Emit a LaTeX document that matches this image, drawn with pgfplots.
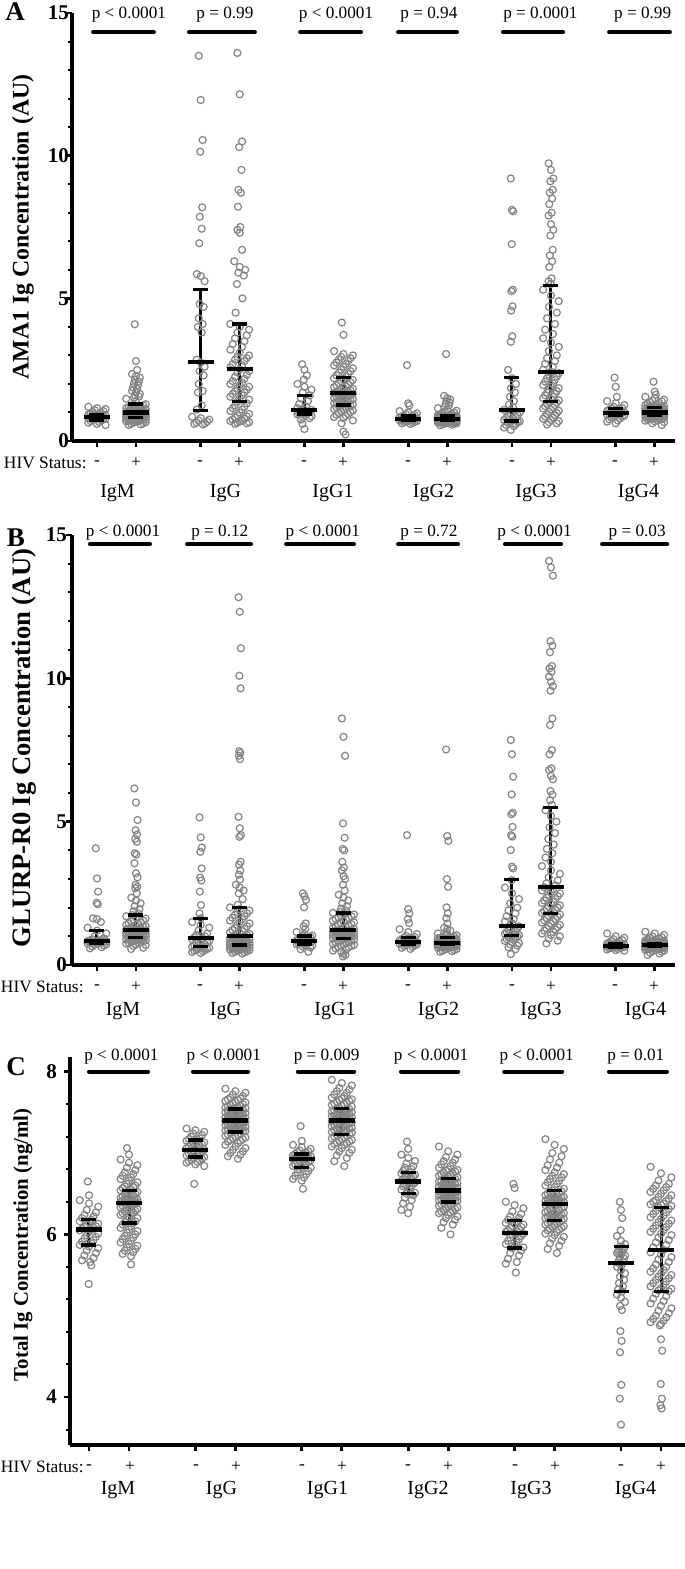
\documentclass[border=0pt]{standalone}
\usepackage{pgfplots}
\pgfplotsset{compat=1.18}
\usepackage{fontspec}
\setmainfont{Liberation Serif}
\definecolor{ptgray}{RGB}{132,132,132}
\pgfplotsset{
 pts/.style={only marks, mark=o, mark size=1.75pt, mark options={draw=ptgray, line width=0.6pt}, forget plot},
 panel/.style={scale only axis, clip=false, axis x line=bottom, axis y line=left,
   axis line style={line width=1.8pt,-}, tick align=outside, major tick length=3pt, minor tick length=2pt,
   tick style={black, line width=1.4pt}, minor tick style={line width=1pt},
   xticklabels={,,,,,,,,,,,}, yticklabel style={font=\fontsize{10.5}{12}\selectfont\bfseries}},
}
\newcommand{\sw}[3]{\addplot[pts] table[header=false,row sep=\\,y index=0,x expr={#1+#2*(mod(4*\coordindex,9)-4)/4}]{#3};}
\newcommand{\iq}[4]{\addplot[black, line width=1.5pt, mark=-, mark size=3.75pt, mark options={line width=1.7pt, solid}, forget plot] coordinates {(#1,#2)(#1,#3)};
\addplot[only marks, mark=-, mark size=6.5pt, mark options={black, line width=2.1pt}, forget plot] coordinates {(#1,#4)};}
\newcommand{\pb}[6]{\draw[line width=2pt, line cap=round] (axis cs:#1,#3) -- (axis cs:#2,#3);
\node[font=\fontsize{8.6}{10}\selectfont, inner sep=0pt] at (axis cs:#4,#5) {#6};}
\begin{document}
\begin{tikzpicture}
\useasboundingbox (0,0) rectangle (342.5pt,-784.5pt);
% ---------------- Panel A ----------------
\begin{axis}[panel, at={(36pt,-6.5pt)}, anchor=north west, width=301.5pt, height=214pt,
 xmin=0.36, xmax=15.82, ymin=0, ymax=15, yticklabel style={xshift=5pt},
 xtick={1,2,3.66,4.66,6.32,7.32,8.98,9.98,11.64,12.64,14.3,15.3},
 ytick={0,5,10,15}, yticklabels={0,5,10,15}, minor ytick={1,2,3,4,6,7,8,9,11,12,13,14}]
\sw{1}{.22}{1.20\\1.15\\1.12\\1.08\\1.05\\1.02\\0.99\\0.97\\0.95\\0.93\\0.92\\0.90\\0.88\\0.87\\0.85\\0.84\\0.83\\0.82\\0.80\\0.79\\0.78\\0.76\\0.75\\0.74\\0.72\\0.70\\0.67\\0.64\\0.60\\0.56\\}
\sw{2}{.03}{4.09\\2.80\\2.49\\}
\sw{2}{.1}{2.35\\2.28\\2.22\\2.15\\2.08\\2.02\\1.95\\1.88\\1.82\\1.76\\1.70\\1.65\\1.60\\1.56\\1.52\\}
\sw{2}{.25}{1.48\\1.40\\1.29\\1.27\\1.25\\1.23\\1.21\\1.19\\1.17\\1.15\\1.14\\1.12\\1.10\\1.09\\1.08\\1.06\\1.05\\1.04\\1.03\\1.02\\1.01\\1.00\\0.99\\0.98\\0.97\\0.96\\0.95\\0.94\\0.93\\0.92\\0.91\\0.90\\0.89\\0.88\\0.87\\0.86\\0.85\\0.85\\0.84\\0.83\\0.83\\0.82\\0.81\\0.80\\0.79\\0.78\\0.77\\0.76\\0.75\\0.74\\0.73\\0.72\\0.71\\0.70\\0.69\\0.68\\0.66\\0.64\\0.62\\0.60\\0.58\\0.56\\}
\sw{3.66}{.05}{13.50\\11.95\\10.55\\10.14\\8.19\\7.86\\7.44\\6.93\\}
\sw{3.66}{.1}{5.85\\5.78\\5.60\\4.80\\4.70\\4.30\\4.10\\4.00\\3.80\\2.85\\2.75\\2.60\\2.45\\2.30\\2.00\\1.75\\1.70\\1.25\\1.10\\}
\sw{3.66}{.22}{0.85\\0.80\\0.75\\0.72\\0.68\\0.65\\0.62\\0.60\\0.58\\}
\sw{4.66}{.06}{13.60\\12.15\\10.50\\10.30\\9.50\\8.80\\8.70\\8.21\\7.50\\7.40\\7.30\\6.70\\}
\sw{4.66}{.14}{6.30\\6.10\\6.00\\5.90\\5.80\\5.50\\5.00\\4.50\\}
\sw{4.66}{.24}{4.10\\4.00\\3.90\\3.80\\3.70\\3.60\\3.50\\3.40\\3.30\\3.20\\3.10\\3.00\\2.95\\2.90\\2.85\\2.80\\2.70\\2.65\\2.58\\2.51\\2.45\\2.40\\2.32\\2.25\\2.18\\2.10\\2.05\\2.00\\1.95\\1.90\\1.85\\1.80\\1.75\\1.70\\1.65\\1.60\\1.55\\1.50\\1.45\\1.38\\1.32\\1.25\\1.20\\1.15\\1.10\\1.05\\1.00\\0.95\\0.90\\0.86\\0.82\\0.78\\0.75\\0.72\\0.70\\0.68\\0.66\\0.64\\0.62\\0.60\\}
\sw{6.32}{.06}{2.69\\2.50\\2.30\\2.15\\}
\sw{6.32}{.18}{2.00\\1.90\\1.80\\1.70\\1.60\\1.50\\1.40\\1.30\\1.20\\1.15\\1.10\\1.09\\1.05\\1.02\\1.00\\0.98\\0.96\\0.95\\0.93\\0.90\\0.87\\0.84\\0.80\\0.75\\}
\sw{6.32}{.05}{0.60\\0.42\\}
\sw{7.32}{.04}{4.15\\3.72\\}
\sw{7.32}{.24}{3.15\\3.05\\3.00\\2.95\\2.90\\2.85\\2.80\\2.75\\2.70\\2.65\\2.60\\2.55\\2.50\\2.45\\2.40\\2.35\\2.30\\2.25\\2.20\\2.17\\2.14\\2.10\\2.06\\2.02\\1.98\\1.95\\1.92\\1.89\\1.86\\1.83\\1.80\\1.78\\1.76\\1.74\\1.72\\1.70\\1.68\\1.67\\1.65\\1.63\\1.61\\1.59\\1.57\\1.55\\1.53\\1.51\\1.49\\1.47\\1.45\\1.43\\1.41\\1.39\\1.37\\1.35\\1.33\\1.31\\1.28\\1.26\\1.24\\1.22\\1.20\\1.18\\1.15\\1.12\\1.10\\1.07\\1.04\\1.01\\0.98\\0.95\\0.92\\0.88\\0.84\\0.80\\0.72\\}
\sw{7.32}{.05}{0.62\\0.33\\0.23\\}
\sw{8.98}{.03}{2.66\\1.32\\1.25\\}
\sw{8.98}{.22}{1.05\\1.00\\0.97\\0.94\\0.91\\0.89\\0.88\\0.86\\0.84\\0.82\\0.80\\0.79\\0.78\\0.77\\0.76\\0.75\\0.74\\0.73\\0.72\\0.71\\0.70\\0.69\\0.68\\0.66\\0.64\\0.62\\0.60\\}
\sw{9.98}{.03}{3.05\\}
\sw{9.98}{.08}{1.58\\1.50\\1.45\\1.40\\1.35\\1.30\\1.25\\1.20\\}
\sw{9.98}{.24}{1.15\\1.10\\1.06\\1.02\\1.00\\0.98\\0.96\\0.94\\0.92\\0.90\\0.89\\0.88\\0.88\\0.87\\0.87\\0.86\\0.86\\0.85\\0.85\\0.84\\0.84\\0.83\\0.83\\0.82\\0.82\\0.81\\0.80\\0.80\\0.79\\0.79\\0.78\\0.78\\0.77\\0.77\\0.76\\0.76\\0.75\\0.75\\0.75\\0.74\\0.74\\0.74\\0.73\\0.73\\0.73\\0.72\\0.72\\0.72\\0.71\\0.71\\0.71\\0.70\\0.70\\0.69\\0.69\\0.68\\0.68\\0.67\\0.67\\0.66\\0.66\\0.65\\0.65\\0.64\\0.63\\0.62\\0.61\\0.60\\0.59\\0.57\\0.55\\}
\sw{11.64}{.03}{9.20\\8.10\\8.05\\6.90\\5.30\\5.25\\4.72\\4.57\\3.67\\3.48\\}
\sw{11.64}{.1}{2.49\\2.20\\2.00\\1.85\\1.70\\1.55\\1.40\\1.28\\1.18\\}
\sw{11.64}{.2}{1.09\\1.05\\1.01\\0.96\\0.90\\0.87\\0.84\\0.81\\0.78\\0.74\\0.71\\0.69\\0.67\\0.66\\0.64\\0.60\\0.56\\0.52\\0.47\\}
\sw{11.64}{.03}{0.39\\}
\sw{12.64}{.06}{9.73\\9.50\\9.20\\9.10\\8.80\\8.70\\8.50\\8.30\\8.00\\7.90\\7.60\\7.40\\7.20\\6.70\\6.50\\6.30\\6.10\\5.70\\5.60\\5.50\\}
\sw{12.64}{.2}{5.30\\5.10\\4.90\\4.70\\4.50\\4.30\\4.10\\3.90\\3.75\\3.60\\3.45\\3.30\\3.15\\3.00\\2.90\\2.80\\2.70\\2.60\\2.50\\2.43\\2.38\\2.32\\2.26\\2.20\\2.14\\2.08\\2.02\\1.96\\1.90\\1.85\\1.80\\1.75\\1.70\\1.65\\1.60\\1.55\\1.50\\1.46\\1.42\\1.38\\1.34\\1.30\\1.26\\1.22\\1.18\\1.14\\1.10\\1.06\\1.02\\0.98\\0.94\\0.90\\0.86\\0.82\\0.78\\0.74\\0.70\\0.66\\0.62\\0.58\\}
\sw{14.3}{.03}{2.22\\1.90\\1.55\\}
\sw{14.3}{.22}{1.40\\1.32\\1.26\\1.20\\1.16\\1.14\\1.12\\1.10\\1.08\\1.06\\1.04\\1.02\\1.01\\1.00\\0.99\\0.98\\0.96\\0.94\\0.92\\0.90\\0.89\\0.87\\0.85\\0.82\\0.79\\0.76\\0.72\\0.68\\0.62\\}
\sw{15.3}{.03}{2.08\\1.73\\1.62\\}
\sw{15.3}{.24}{1.55\\1.50\\1.45\\1.42\\1.39\\1.36\\1.33\\1.30\\1.28\\1.26\\1.24\\1.22\\1.21\\1.20\\1.19\\1.18\\1.17\\1.16\\1.15\\1.14\\1.13\\1.12\\1.11\\1.10\\1.09\\1.08\\1.07\\1.06\\1.05\\1.05\\1.04\\1.03\\1.03\\1.02\\1.01\\1.01\\1.00\\0.99\\0.99\\0.98\\0.98\\0.97\\0.97\\0.96\\0.96\\0.95\\0.95\\0.94\\0.94\\0.93\\0.93\\0.92\\0.92\\0.91\\0.91\\0.90\\0.89\\0.88\\0.87\\0.86\\0.85\\0.84\\0.83\\0.82\\0.81\\0.80\\0.79\\0.78\\0.77\\0.76\\0.75\\0.73\\0.71\\0.69\\0.66\\0.62\\0.56\\}
\iq{1}{0.74}{0.92}{0.83}
\iq{2}{0.82}{1.29}{1.00}
\iq{3.66}{1.06}{5.32}{2.78}
\iq{4.66}{1.38}{4.10}{2.51}
\iq{6.32}{0.95}{1.59}{1.09}
\iq{7.32}{1.26}{2.23}{1.67}
\iq{8.98}{0.71}{0.88}{0.77}
\iq{9.98}{0.71}{0.88}{0.78}
\iq{11.64}{0.70}{2.22}{1.09}
\iq{12.64}{1.39}{5.44}{2.43}
\iq{14.3}{0.89}{1.14}{0.99}
\iq{15.3}{0.89}{1.17}{1.00}
\pb{0.90}{2.46}{14.33}{1.82}{14.93}{p < 0.0001}
\pb{3.36}{5.05}{14.33}{4.28}{14.93}{p = 0.99}
\pb{6.21}{7.77}{14.33}{7.13}{14.93}{p < 0.0001}
\pb{8.72}{10.23}{14.33}{9.51}{14.93}{p = 0.94}
\pb{11.41}{12.95}{14.33}{12.37}{14.93}{p = 0.0001}
\pb{14.13}{15.69}{14.33}{14.99}{14.93}{p = 0.99}
\end{axis}
% ---------------- Panel B ----------------
\begin{axis}[panel, at={(36pt,-267.5pt)}, anchor=north west, width=301.5pt, height=215pt,
 xmin=0.36, xmax=15.82, ymin=0, ymax=15, yticklabel style={xshift=4pt},
 xtick={1,2,3.66,4.66,6.32,7.32,8.98,9.98,11.64,12.64,14.3,15.3},
 ytick={0,5,10,15}, yticklabels={0,5,10,15}, minor ytick={1,2,3,4,6,7,8,9,11,12,13,14}]
\sw{1}{.03}{4.07\\3.02\\2.56\\2.17\\2.12\\}
\sw{1}{.1}{1.63\\1.60\\1.50\\}
\sw{1}{.24}{1.30\\1.20\\1.10\\1.00\\0.93\\0.89\\0.87\\0.86\\0.85\\0.84\\0.83\\0.82\\0.81\\0.80\\0.79\\0.78\\0.77\\0.76\\0.75\\0.74\\0.72\\0.70\\0.68\\0.65\\0.62\\0.58\\}
\sw{2}{.04}{6.16\\5.67\\5.06\\4.70\\4.55\\4.40\\4.30\\3.90\\3.85\\3.55\\3.20\\3.06\\2.80\\2.73\\2.68\\2.50\\}
\sw{2}{.12}{2.35\\2.25\\2.15\\2.05\\1.95\\1.88\\1.80\\1.74\\}
\sw{2}{.25}{1.70\\1.66\\1.62\\1.58\\1.55\\1.52\\1.49\\1.46\\1.43\\1.40\\1.38\\1.36\\1.34\\1.32\\1.30\\1.28\\1.26\\1.25\\1.24\\1.22\\1.21\\1.20\\1.19\\1.18\\1.16\\1.15\\1.14\\1.12\\1.11\\1.10\\1.08\\1.07\\1.06\\1.05\\1.04\\1.03\\1.02\\1.00\\0.99\\0.97\\0.96\\0.95\\0.93\\0.92\\0.90\\0.89\\0.87\\0.86\\0.84\\0.83\\0.81\\0.80\\0.78\\0.76\\0.74\\0.72\\0.70\\0.66\\0.60\\0.56\\}
\sw{3.66}{.03}{5.15\\4.45\\4.10\\3.95\\3.37\\3.05\\2.95\\2.56\\2.09\\1.80\\1.63\\}
\sw{3.66}{.22}{1.50\\1.40\\1.30\\1.20\\1.10\\1.05\\1.00\\0.96\\0.93\\0.90\\0.87\\0.84\\0.81\\0.78\\0.75\\0.72\\0.69\\0.66\\0.64\\0.62\\0.60\\0.58\\0.56\\0.54\\0.52\\0.50\\0.48\\0.45\\0.42\\}
\sw{4.66}{.03}{12.83\\12.32\\11.05\\10.09\\9.65\\7.46\\7.40\\7.30\\7.18\\5.17\\4.77\\4.53\\4.47\\3.60\\3.50\\3.30\\3.15\\2.98\\}
\sw{4.66}{.1}{2.80\\2.70\\2.60\\2.50\\2.30\\2.10\\}
\sw{4.66}{.25}{2.01\\1.95\\1.90\\1.85\\1.80\\1.75\\1.70\\1.65\\1.60\\1.55\\1.50\\1.45\\1.40\\1.35\\1.30\\1.26\\1.22\\1.18\\1.14\\1.11\\1.08\\1.06\\1.04\\1.02\\1.00\\0.98\\0.96\\0.94\\0.92\\0.90\\0.88\\0.86\\0.84\\0.83\\0.82\\0.81\\0.80\\0.79\\0.78\\0.77\\0.76\\0.75\\0.74\\0.73\\0.72\\0.71\\0.71\\0.70\\0.69\\0.68\\0.67\\0.66\\0.65\\0.64\\0.63\\0.62\\0.61\\0.60\\0.59\\0.58\\0.57\\0.56\\0.55\\0.54\\0.53\\0.52\\0.50\\0.48\\0.46\\0.44\\0.42\\0.40\\}
\sw{6.32}{.04}{2.50\\2.40\\2.27\\2.01\\1.45\\1.35\\1.25\\}
\sw{6.32}{.2}{1.15\\1.08\\1.03\\1.01\\0.98\\0.95\\0.92\\0.90\\0.88\\0.86\\0.84\\0.83\\0.81\\0.80\\0.78\\0.77\\0.75\\0.73\\0.72\\0.70\\0.68\\0.65\\0.61\\0.55\\0.46\\}
\sw{7.32}{.04}{8.60\\7.96\\7.30\\4.94\\4.44\\4.05\\4.00\\3.60\\3.40\\3.30\\3.10\\3.00\\2.80\\2.60\\}
\sw{7.32}{.12}{2.45\\2.35\\2.25\\2.15\\2.05\\1.97\\1.90\\1.85\\}
\sw{7.32}{.27}{1.82\\1.79\\1.76\\1.73\\1.70\\1.67\\1.64\\1.61\\1.58\\1.55\\1.52\\1.49\\1.46\\1.43\\1.40\\1.37\\1.34\\1.32\\1.30\\1.28\\1.26\\1.24\\1.22\\1.21\\1.20\\1.19\\1.17\\1.16\\1.15\\1.13\\1.12\\1.10\\1.09\\1.07\\1.06\\1.05\\1.04\\1.02\\1.01\\1.00\\0.99\\0.97\\0.96\\0.95\\0.94\\0.92\\0.90\\0.88\\0.86\\0.84\\0.82\\0.80\\0.78\\0.76\\0.74\\0.72\\0.70\\0.68\\0.66\\0.64\\0.62\\0.58\\0.54\\0.50\\}
\sw{7.32}{.05}{0.45\\0.40\\0.35\\0.30\\}
\sw{8.98}{.03}{4.53\\1.95\\1.80\\1.60\\1.46\\}
\sw{8.98}{.22}{1.25\\1.15\\1.08\\1.02\\0.98\\0.95\\0.93\\0.90\\0.88\\0.85\\0.83\\0.81\\0.80\\0.79\\0.78\\0.77\\0.76\\0.75\\0.74\\0.73\\0.72\\0.70\\0.68\\0.66\\0.63\\0.60\\0.56\\}
\sw{9.98}{.03}{7.52\\4.50\\4.33\\3.00\\2.73\\2.01\\1.80\\1.63\\1.45\\}
\sw{9.98}{.08}{1.30\\1.25\\1.20\\1.15\\}
\sw{9.98}{.24}{1.10\\1.07\\1.04\\1.02\\1.00\\0.98\\0.96\\0.95\\0.94\\0.93\\0.92\\0.91\\0.90\\0.89\\0.88\\0.87\\0.86\\0.85\\0.84\\0.83\\0.82\\0.82\\0.81\\0.81\\0.80\\0.80\\0.79\\0.79\\0.78\\0.78\\0.77\\0.77\\0.76\\0.76\\0.75\\0.75\\0.74\\0.74\\0.73\\0.73\\0.73\\0.72\\0.72\\0.72\\0.71\\0.71\\0.71\\0.71\\0.71\\0.71\\0.70\\0.70\\0.69\\0.69\\0.68\\0.68\\0.67\\0.66\\0.65\\0.64\\0.63\\0.62\\0.61\\0.60\\0.58\\0.56\\0.54\\0.52\\0.50\\0.48\\0.46\\}
\sw{11.64}{.03}{7.85\\7.35\\6.57\\5.95\\5.31\\5.26\\4.82\\4.53\\4.48\\4.01\\3.43\\3.37\\2.96\\}
\sw{11.64}{.18}{2.70\\2.50\\2.30\\2.15\\2.00\\1.90\\1.80\\1.70\\1.60\\1.52\\1.45\\1.35\\1.30\\1.26\\1.22\\1.18\\1.15\\1.12\\1.09\\1.06\\1.04\\1.02\\0.99\\0.96\\0.93\\0.90\\0.87\\0.84\\0.80\\0.76\\0.72\\0.68\\0.62\\0.55\\}
\sw{11.64}{.03}{0.38\\}
\sw{12.64}{.05}{14.10\\13.87\\13.58\\11.30\\11.14\\10.91\\10.43\\10.35\\10.23\\10.06\\9.88\\9.73\\9.57\\8.60\\8.37\\7.50\\7.35\\6.86\\6.80\\6.60\\6.48\\6.07\\5.94\\5.75\\5.58\\}
\sw{12.64}{.14}{5.40\\5.20\\5.00\\4.80\\4.60\\4.40\\4.20\\4.05\\3.90\\3.75\\3.60\\}
\sw{12.64}{.23}{3.45\\3.30\\3.18\\3.06\\2.95\\2.85\\2.78\\2.71\\2.65\\2.60\\2.55\\2.50\\2.45\\2.40\\2.35\\2.30\\2.25\\2.20\\2.16\\2.12\\2.08\\2.04\\2.00\\1.96\\1.92\\1.88\\1.85\\1.82\\1.80\\1.76\\1.72\\1.68\\1.64\\1.60\\1.56\\1.52\\1.48\\1.44\\1.40\\1.36\\1.32\\1.28\\1.24\\1.20\\1.15\\1.10\\1.05\\1.00\\0.92\\0.85\\0.75\\}
\sw{14.3}{.22}{1.10\\1.00\\0.95\\0.90\\0.87\\0.84\\0.81\\0.78\\0.76\\0.75\\0.74\\0.72\\0.71\\0.70\\0.69\\0.68\\0.67\\0.66\\0.65\\0.64\\0.63\\0.62\\0.61\\0.60\\0.59\\0.58\\0.56\\0.54\\0.52\\0.50\\}
\sw{15.3}{.24}{1.16\\1.10\\1.05\\1.00\\0.97\\0.94\\0.92\\0.90\\0.88\\0.86\\0.85\\0.84\\0.83\\0.82\\0.81\\0.80\\0.80\\0.79\\0.79\\0.78\\0.78\\0.77\\0.77\\0.76\\0.76\\0.75\\0.75\\0.74\\0.74\\0.73\\0.73\\0.72\\0.72\\0.72\\0.71\\0.71\\0.71\\0.70\\0.70\\0.70\\0.69\\0.69\\0.69\\0.68\\0.68\\0.68\\0.67\\0.67\\0.67\\0.66\\0.66\\0.66\\0.65\\0.65\\0.65\\0.64\\0.64\\0.63\\0.63\\0.62\\0.62\\0.61\\0.61\\0.60\\0.60\\0.59\\0.59\\0.58\\0.57\\0.56\\0.55\\0.54\\0.53\\0.52\\0.50\\0.48\\0.46\\0.43\\0.40\\0.35\\}
\iq{1}{0.76}{1.20}{0.85}
\iq{2}{0.97}{1.74}{1.22}
\iq{3.66}{0.64}{1.63}{0.93}
\iq{4.66}{0.70}{2.01}{1.02}
\iq{6.32}{0.72}{1.01}{0.84}
\iq{7.32}{0.93}{1.82}{1.22}
\iq{8.98}{0.72}{0.95}{0.79}
\iq{9.98}{0.71}{0.95}{0.78}
\iq{11.64}{1.02}{2.99}{1.35}
\iq{12.64}{1.80}{5.49}{2.71}
\iq{14.3}{0.62}{0.73}{0.67}
\iq{15.3}{0.64}{0.76}{0.70}
\pb{0.82}{2.36}{14.68}{1.67}{15.10}{p < 0.0001}
\pb{3.31}{4.95}{14.68}{4.15}{15.10}{p = 0.12}
\pb{5.85}{7.59}{14.68}{6.79}{15.10}{p < 0.0001}
\pb{8.72}{10.26}{14.68}{9.51}{15.10}{p = 0.72}
\pb{11.46}{12.90}{14.68}{12.22}{15.10}{p < 0.0001}
\pb{13.95}{15.62}{14.68}{14.85}{15.10}{p = 0.03}
\end{axis}
% ---------------- Panel C ----------------
\begin{axis}[panel, at={(35pt,-528.5pt)}, anchor=north west, width=307.5pt, height=194pt,
 xmin=0.525, xmax=15.9, ymin=3.41, ymax=8.18,
 xtick={1,2,3.66,4.66,6.32,7.32,8.98,9.98,11.64,12.64,14.3,15.3},
 ytick={4,6,8}, yticklabels={4,6,8}, minor ytick={3.6,4.4,4.8,5.2,5.6,6.4,6.8,7.2,7.6}]
\sw{1}{.03}{6.65\\6.48\\5.66\\5.39\\}
\sw{1}{.23}{6.42\\6.38\\6.34\\6.30\\6.27\\6.24\\6.22\\6.20\\6.18\\6.16\\6.15\\6.13\\6.12\\6.10\\6.09\\6.08\\6.07\\6.06\\6.05\\6.03\\6.01\\5.99\\5.97\\5.95\\5.93\\5.91\\5.89\\5.87\\5.85\\5.83\\5.80\\5.77\\5.74\\5.71\\5.68\\5.62\\}
\sw{2}{.05}{7.06\\6.98\\5.63\\}
\sw{2}{.21}{6.92\\6.88\\6.85\\6.82\\6.79\\6.76\\6.74\\6.72\\6.70\\6.68\\6.66\\6.64\\6.62\\6.60\\6.59\\6.58\\6.57\\6.55\\6.54\\6.53\\6.52\\6.51\\6.50\\6.49\\6.48\\6.47\\6.46\\6.45\\6.44\\6.43\\6.43\\6.42\\6.42\\6.41\\6.41\\6.40\\6.40\\6.39\\6.39\\6.39\\6.38\\6.37\\6.36\\6.35\\6.34\\6.33\\6.32\\6.31\\6.30\\6.29\\6.28\\6.27\\6.26\\6.25\\6.24\\6.22\\6.20\\6.18\\6.16\\6.15\\6.14\\6.12\\6.10\\6.08\\6.06\\6.04\\6.02\\6.00\\5.98\\5.96\\5.94\\5.92\\5.90\\5.88\\5.86\\5.84\\5.82\\5.80\\5.78\\5.76\\5.73\\}
\sw{3.66}{.03}{6.62\\}
\sw{3.66}{.22}{7.30\\7.28\\7.26\\7.24\\7.22\\7.20\\7.18\\7.17\\7.16\\7.15\\7.14\\7.13\\7.12\\7.11\\7.10\\7.09\\7.08\\7.07\\7.06\\7.05\\7.04\\7.03\\7.02\\7.01\\7.00\\6.99\\6.98\\6.97\\6.96\\6.95\\6.94\\6.93\\6.92\\6.91\\6.90\\6.89\\6.88\\6.86\\6.84\\}
\sw{4.66}{.25}{7.79\\7.76\\7.74\\7.72\\7.70\\7.68\\7.67\\7.66\\7.65\\7.64\\7.63\\7.62\\7.61\\7.60\\7.59\\7.58\\7.57\\7.56\\7.56\\7.55\\7.55\\7.54\\7.53\\7.53\\7.52\\7.52\\7.51\\7.50\\7.50\\7.49\\7.48\\7.48\\7.47\\7.46\\7.46\\7.45\\7.44\\7.44\\7.43\\7.43\\7.42\\7.42\\7.41\\7.41\\7.40\\7.39\\7.39\\7.38\\7.38\\7.37\\7.36\\7.36\\7.35\\7.34\\7.34\\7.33\\7.32\\7.32\\7.31\\7.30\\7.30\\7.29\\7.29\\7.28\\7.28\\7.27\\7.27\\7.26\\7.25\\7.24\\7.23\\7.22\\7.21\\7.20\\7.19\\7.18\\7.17\\7.16\\7.15\\7.14\\7.12\\7.10\\7.08\\7.06\\7.04\\7.02\\7.00\\6.98\\6.96\\6.93\\}
\sw{6.32}{.03}{7.33\\7.15\\6.56\\}
\sw{6.32}{.22}{7.10\\7.07\\7.05\\7.03\\7.02\\7.01\\7.00\\6.99\\6.98\\6.97\\6.97\\6.96\\6.96\\6.95\\6.95\\6.94\\6.94\\6.93\\6.93\\6.92\\6.91\\6.90\\6.89\\6.88\\6.87\\6.86\\6.85\\6.84\\6.83\\6.82\\6.80\\6.78\\6.76\\6.74\\6.72\\6.70\\6.68\\6.66\\}
\sw{7.32}{.25}{7.90\\7.86\\7.83\\7.80\\7.78\\7.76\\7.74\\7.72\\7.70\\7.68\\7.67\\7.66\\7.65\\7.64\\7.63\\7.62\\7.61\\7.60\\7.59\\7.58\\7.57\\7.55\\7.54\\7.54\\7.53\\7.52\\7.52\\7.51\\7.50\\7.50\\7.49\\7.48\\7.48\\7.47\\7.46\\7.46\\7.45\\7.44\\7.44\\7.43\\7.43\\7.42\\7.42\\7.41\\7.40\\7.39\\7.38\\7.38\\7.37\\7.36\\7.36\\7.35\\7.34\\7.33\\7.33\\7.32\\7.31\\7.30\\7.30\\7.29\\7.28\\7.28\\7.27\\7.26\\7.25\\7.25\\7.24\\7.23\\7.22\\7.21\\7.20\\7.19\\7.18\\7.17\\7.16\\7.15\\7.14\\7.13\\7.12\\7.11\\7.10\\7.08\\7.06\\7.04\\7.02\\7.00\\6.97\\6.94\\6.90\\6.84\\}
\sw{8.98}{.03}{7.14\\7.05\\}
\sw{8.98}{.17}{6.98\\6.94\\6.90\\6.87\\6.84\\6.82\\6.80\\6.78\\6.76\\6.75\\6.74\\6.73\\6.72\\6.71\\6.70\\6.69\\6.68\\6.67\\6.66\\6.65\\6.64\\6.63\\6.62\\6.61\\6.60\\6.59\\6.57\\6.55\\6.53\\6.51\\6.50\\6.48\\6.45\\6.42\\6.38\\6.34\\6.30\\6.26\\}
\sw{9.98}{.23}{7.08\\7.02\\6.98\\6.95\\6.92\\6.90\\6.88\\6.86\\6.84\\6.82\\6.80\\6.79\\6.78\\6.77\\6.76\\6.75\\6.74\\6.73\\6.72\\6.71\\6.70\\6.69\\6.68\\6.68\\6.67\\6.66\\6.65\\6.65\\6.64\\6.63\\6.63\\6.62\\6.61\\6.61\\6.60\\6.59\\6.59\\6.58\\6.57\\6.57\\6.56\\6.56\\6.55\\6.55\\6.54\\6.53\\6.53\\6.52\\6.52\\6.51\\6.50\\6.50\\6.49\\6.48\\6.48\\6.47\\6.46\\6.46\\6.45\\6.44\\6.44\\6.43\\6.43\\6.42\\6.42\\6.41\\6.41\\6.40\\6.39\\6.38\\6.37\\6.36\\6.35\\6.34\\6.33\\6.32\\6.31\\6.30\\6.29\\6.28\\6.27\\6.26\\6.24\\6.22\\6.20\\6.18\\6.15\\6.12\\6.08\\6.00\\}
\sw{11.64}{.03}{6.62\\6.57\\5.53\\}
\sw{11.64}{.22}{6.40\\6.36\\6.32\\6.28\\6.25\\6.22\\6.20\\6.18\\6.16\\6.14\\6.13\\6.12\\6.10\\6.09\\6.08\\6.06\\6.05\\6.04\\6.03\\6.02\\6.01\\6.00\\5.98\\5.96\\5.94\\5.92\\5.90\\5.88\\5.86\\5.84\\5.83\\5.80\\5.77\\5.74\\5.70\\5.66\\5.64\\}
\sw{12.64}{.23}{7.17\\7.10\\7.05\\7.00\\6.96\\6.92\\6.88\\6.85\\6.82\\6.79\\6.76\\6.74\\6.72\\6.70\\6.68\\6.66\\6.64\\6.62\\6.60\\6.58\\6.56\\6.54\\6.53\\6.52\\6.51\\6.50\\6.49\\6.48\\6.47\\6.46\\6.46\\6.45\\6.44\\6.43\\6.43\\6.42\\6.41\\6.41\\6.40\\6.40\\6.39\\6.39\\6.38\\6.38\\6.37\\6.36\\6.35\\6.34\\6.33\\6.32\\6.31\\6.30\\6.29\\6.28\\6.27\\6.26\\6.26\\6.25\\6.24\\6.23\\6.23\\6.22\\6.21\\6.20\\6.20\\6.19\\6.18\\6.17\\6.16\\6.15\\6.14\\6.13\\6.12\\6.11\\6.10\\6.09\\6.08\\6.07\\6.06\\6.05\\6.03\\6.01\\5.99\\5.97\\5.95\\5.92\\5.89\\5.86\\5.82\\5.77\\}
\sw{14.3}{.03}{6.40\\6.30\\6.20\\6.05\\5.07\\4.81\\4.69\\4.55\\4.15\\3.98\\3.66\\}
\sw{14.3}{.1}{5.98\\5.92\\5.88\\5.85\\5.83\\5.81\\5.80\\5.79\\5.78\\5.77\\5.76\\5.74\\5.72\\5.70\\5.68\\5.66\\5.65\\5.63\\5.60\\5.56\\5.52\\5.48\\5.44\\5.40\\5.36\\5.32\\5.30\\5.26\\5.22\\5.17\\5.12\\}
\sw{15.3}{.03}{4.88\\4.71\\4.57\\4.16\\3.98\\3.90\\3.86\\}
\sw{15.3}{.26}{6.83\\6.75\\6.70\\6.66\\6.62\\6.60\\6.58\\6.56\\6.54\\6.52\\6.50\\6.48\\6.46\\6.44\\6.42\\6.41\\6.40\\6.38\\6.37\\6.36\\6.35\\6.33\\6.31\\6.29\\6.27\\6.25\\6.23\\6.21\\6.19\\6.17\\6.15\\6.13\\6.11\\6.09\\6.07\\6.05\\6.03\\6.01\\5.99\\5.96\\5.93\\5.90\\5.87\\5.84\\5.81\\5.78\\5.75\\5.72\\5.69\\5.66\\5.63\\5.60\\5.58\\5.56\\5.54\\5.52\\5.50\\5.48\\5.46\\5.44\\5.42\\5.40\\5.38\\5.36\\5.34\\5.33\\5.31\\5.30\\5.27\\5.24\\5.21\\5.18\\5.15\\5.12\\5.09\\5.06\\5.03\\5.00\\4.98\\4.96\\4.94\\4.92\\4.90\\}
\iq{1}{5.87}{6.18}{6.06}
\iq{2}{6.14}{6.54}{6.39}
\iq{3.66}{6.95}{7.16}{7.04}
\iq{4.66}{7.26}{7.54}{7.40}
\iq{6.32}{6.82}{6.99}{6.93}
\iq{7.32}{7.23}{7.55}{7.40}
\iq{8.98}{6.50}{6.76}{6.65}
\iq{9.98}{6.40}{6.69}{6.54}
\iq{11.64}{5.83}{6.17}{6.02}
\iq{12.64}{6.17}{6.54}{6.37}
\iq{14.3}{5.30}{5.85}{5.65}
\iq{15.3}{5.30}{6.33}{5.81}
\pb{1.00}{2.48}{8.0}{1.81}{8.18}{p < 0.0001}
\pb{3.60}{4.98}{8.0}{4.37}{8.18}{p < 0.0001}
\pb{6.22}{7.63}{8.0}{6.94}{8.18}{p = 0.009}
\pb{8.80}{10.23}{8.0}{9.55}{8.18}{p < 0.0001}
\pb{11.38}{12.83}{8.0}{12.19}{8.18}{p < 0.0001}
\pb{14.00}{15.45}{8.0}{14.67}{8.18}{p = 0.01}
\end{axis}
% ---------------- text ----------------
\begin{scope}[x=0.5pt,y=-0.5pt]
\begin{scope}[every node/.style={inner sep=0pt, font=\fontsize{13.5}{15}\selectfont\bfseries}]
\node at (15,12) {A};
\node at (16,538) {B};
\node at (16,1067) {C};
\end{scope}
\node[rotate=90, inner sep=0pt, font=\fontsize{11.9}{14}\selectfont\bfseries] at (23,227) {AMA1 Ig Concentration (AU)};
\node[rotate=90, inner sep=0pt, font=\fontsize{13.3}{15}\selectfont\bfseries] at (24,748) {GLURP-R0 Ig Concentration (AU)};
\node[rotate=90, inner sep=0pt, font=\fontsize{10.4}{12}\selectfont\bfseries] at (23,1245) {Total Ig Concentration (ng/ml)};
\begin{scope}[every node/.style={inner sep=0pt, font=\fontsize{8.7}{10}\selectfont}]
\node[anchor=east] at (87,463) {HIV Status:};
\foreach \x/\s in {97/-,136/+,200/-,239/+,304/-,343/+,408/-,447/+,512/-,551/+,615/-,654/+} \node at (\x,463) {\s};
\node[anchor=east] at (84,987) {HIV Status:};
\foreach \x/\s in {97/-,136/+,200/-,239/+,304/-,343/+,408/-,447/+,512/-,551/+,615/-,654/+} \node at (\x,987) {\s};
\node[anchor=east] at (84,1467) {HIV Status:};
\foreach \x/\s in {89/-,130/+,196/-,236/+,302/-,342/+,408/-,448/+,515/-,555/+,621/-,661/+} \node at (\x,1467) {\s};
\end{scope}
\begin{scope}[every node/.style={inner sep=0pt, font=\fontsize{10}{12}\selectfont}]
\foreach \x/\s in {117.5/IgM,225.5/IgG,333/IgG1,433.5/IgG2,536/IgG3,638.5/IgG4} \node at (\x,493) {\s};
\foreach \x/\s in {123/IgM,225.5/IgG,335/IgG1,438.5/IgG2,541/IgG3,645.5/IgG4} \node at (\x,1011) {\s};
\foreach \x/\s in {118/IgM,221.5/IgG,327.5/IgG1,428/IgG2,531/IgG3,635.5/IgG4} \node at (\x,1490) {\s};
\end{scope}
\end{scope}
\end{tikzpicture}
\end{document}
